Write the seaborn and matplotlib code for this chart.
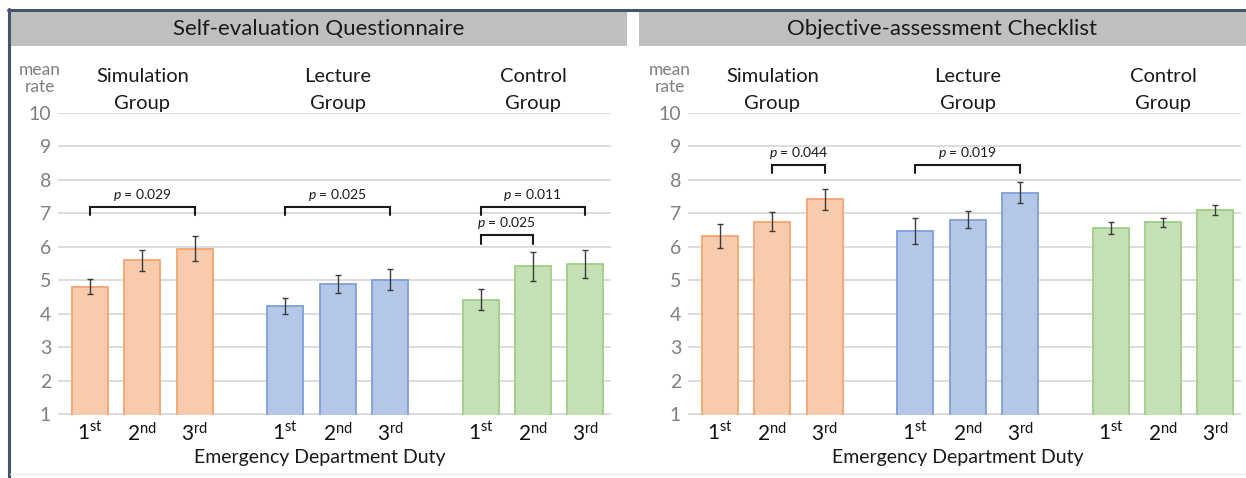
import numpy as np
import pandas as pd
import matplotlib
matplotlib.use("Agg")
import matplotlib.pyplot as plt
import matplotlib.transforms as mtransforms
from matplotlib.patches import Rectangle
from matplotlib.lines import Line2D
import seaborn as sns

# ---------------------------------------------------------------- data
groups = ["Simulation", "Lecture", "Control"]
duty_labels = [r"1$^{\mathrm{st}}$", r"2$^{\mathrm{nd}}$", r"3$^{\mathrm{rd}}$"]

self_eval_mean = [4.82, 5.60, 5.95, 4.25, 4.90, 5.02, 4.43, 5.42, 5.48]
self_eval_err = [0.22, 0.32, 0.37, 0.24, 0.26, 0.31, 0.31, 0.44, 0.42]

checklist_mean = [6.33, 6.76, 7.42, 6.48, 6.82, 7.62, 6.57, 6.74, 7.11]
checklist_err = [0.35, 0.27, 0.31, 0.38, 0.26, 0.32, 0.18, 0.13, 0.15]

# significant comparisons: (first bar, second bar, p value)
self_eval_sig = [(0, 2, "0.029"), (3, 5, "0.025"), (6, 8, "0.011"), (6, 7, "0.025")]
checklist_sig = [(1, 2, "0.044"), (3, 5, "0.019")]

panel_titles = ["Self-evaluation Questionnaire", "Objective-assessment Checklist"]
x_title = "Emergency Department Duty"

# ---------------------------------------------------------------- style
fills = ["#F8CBAD", "#B4C7E7", "#C5E0B4"]
edges = ["#F2A672", "#7F9FDA", "#9FCE85"]
GRID = "#D9D9D9"
TICK_GRAY = "#7F7F7F"
NAVY = "#44546A"
HEADER = "#BFBFBF"

sns.set_theme(style="white")
plt.rcParams["font.family"] = ["Lato", "DejaVu Sans"]
plt.rcParams["mathtext.fontset"] = "custom"
plt.rcParams["mathtext.rm"] = "Lato"
plt.rcParams["mathtext.it"] = "Lato:italic"
plt.rcParams["mathtext.bf"] = "Lato:bold"

W, H = 1246, 478
fig = plt.figure(figsize=(W / 100, H / 100), dpi=100)
fig.patch.set_facecolor("white")


def fx(px):
    return px / W


def fy(py):
    return 1 - py / H


GROUP_STEP = 3.73
positions = [g * GROUP_STEP + d for g in range(3) for d in range(3)]

# ---------------------------------------------------------------- frame and headers
fig.add_artist(Line2D([fx(8), fx(W)], [fy(10), fy(10)], color=NAVY, lw=2.2,
                      transform=fig.transFigure))
fig.add_artist(Line2D([fx(9), fx(9)], [fy(9), fy(H)], color=NAVY, lw=2.2,
                      transform=fig.transFigure))
fig.add_artist(Line2D([fx(10), fx(W)], [fy(474), fy(474)], color="#EEEEEE", lw=1.0,
                      transform=fig.transFigure))

header_spans = [(11, 627), (639, W)]
for (x0, x1), title in zip(header_spans, panel_titles):
    fig.add_artist(Rectangle((fx(x0), fy(46)), fx(x1 - x0), (46 - 12) / H,
                             transform=fig.transFigure, color=HEADER, lw=0))
    fig.text(fx((x0 + x1) / 2), fy(29), title, ha="center", va="center",
             fontsize=16, color="#1A1A1A")

# ---------------------------------------------------------------- panels
axes_left = [58, 688]
panel_data = [
    (self_eval_mean, self_eval_err, self_eval_sig),
    (checklist_mean, checklist_err, checklist_sig),
]
bracket_levels = [
    {(0, 2): 7.2, (3, 5): 7.2, (6, 8): 7.2, (6, 7): 6.35},
    {(1, 2): 8.45, (3, 5): 8.45},
]
rate_x = [40, 670]
xlabel_x = [320, 958]

for k, (means, errs, sigs) in enumerate(panel_data):
    ax = fig.add_axes([fx(axes_left[k]), fy(415), 553 / W, (415 - 113) / H])
    df = pd.DataFrame({
        "pos": positions,
        "mean": means,
        "err": errs,
        "group": [g for g in groups for _ in range(3)],
    })
    for gi, g in enumerate(groups):
        sub = df[df["group"] == g]
        sns.barplot(data=sub, x="pos", y="mean", native_scale=True, width=0.69,
                    color=fills[gi], edgecolor=edges[gi], linewidth=1.3,
                    saturation=1, errorbar=None, ax=ax)
    ax.errorbar(df["pos"], df["mean"], yerr=df["err"], fmt="none",
                ecolor="#3A3A3A", elinewidth=1.0, capsize=2.5, capthick=1.0, zorder=5)

    ax.set_xlim(-0.61, 9.95)
    ax.set_ylim(0.985, 10.0)
    ax.set_yticks(range(1, 11))
    ax.set_yticklabels([str(v) for v in range(1, 11)], color=TICK_GRAY, fontsize=14)
    ax.set_xticks(positions)
    ax.set_xticklabels(duty_labels * 3, fontsize=15, color="#111111")
    ax.tick_params(axis="both", length=0)
    ax.tick_params(axis="y", pad=5)
    ax.tick_params(axis="x", pad=5)
    ax.set_xlabel("")
    ax.set_ylabel("")
    ax.yaxis.grid(True, color=GRID, lw=1.3)
    ax.xaxis.grid(False)
    ax.set_axisbelow(True)
    for s in ax.spines.values():
        s.set_visible(False)

    # significance brackets
    for a, b, p in sigs:
        lvl = bracket_levels[k][(a, b)]
        xa, xb = positions[a], positions[b]
        ax.plot([xa, xa, xb, xb], [lvl - 0.25, lvl, lvl, lvl - 0.25],
                color="#1A1A1A", lw=1.5, solid_joinstyle="miter", zorder=6)
        ax.text((xa + xb) / 2, lvl + 0.12, rf"$p$ = {p}", ha="center", va="bottom",
                fontsize=10, color="#1A1A1A")

    # group names above the bars
    blend = mtransforms.blended_transform_factory(ax.transData, fig.transFigure)
    for gi, g in enumerate(groups):
        xc = positions[gi * 3 + 1]
        ax.text(xc, fy(77), g, transform=blend, ha="center", va="center",
                fontsize=14.5, color="#1A1A1A")
        ax.text(xc, fy(103), "Group", transform=blend, ha="center", va="center",
                fontsize=14.5, color="#1A1A1A")

    fig.text(fx(rate_x[k]), fy(70), "mean", ha="center", va="center",
             fontsize=12.5, color=TICK_GRAY)
    fig.text(fx(rate_x[k]), fy(87), "rate", ha="center", va="center",
             fontsize=12.5, color=TICK_GRAY)

    fig.text(fx(xlabel_x[k]), fy(458), x_title, ha="center",
             va="center", fontsize=14, color="#1A1A1A")

fig.savefig("out.png", dpi=100)
